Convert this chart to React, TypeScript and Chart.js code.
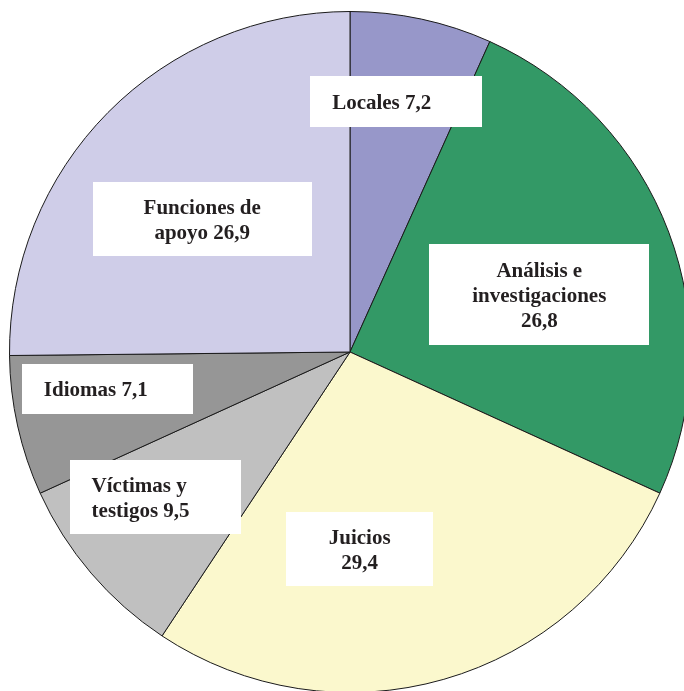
import React, { useEffect, useRef } from "react";
import { Chart, registerables } from "chart.js";

Chart.register(...registerables);

const categories = ["Locales", "Análisis e investigaciones", "Juicios", "Víctimas y testigos", "Idiomas", "Funciones de apoyo"];
const values = [7.2, 26.8, 29.4, 9.5, 7.1, 26.9];
const labelLines = [
  ["Locales 7,2"],
  ["Análisis e", "investigaciones", "26,8"],
  ["Juicios", "29,4"],
  ["Víctimas y", "testigos 9,5"],
  ["Idiomas 7,1"],
  ["Funciones de", "apoyo 26,9"],
];
const colors = ["#9797C9", "#339966", "#FBF8CD", "#C0C0C0", "#969696", "#CFCDE8"];

// label box layout: radial fraction, angle shift (deg), box w/h, alignment
const labelLayout = [
  { r: 0.749, shift: -1.7, w: 172, h: 51, align: "left" },
  { r: 0.581, shift: 3.7, w: 220, h: 101, align: "center" },
  { r: 0.58, shift: 13.2, w: 147, h: 74, align: "center" },
  { r: 0.714, shift: 3.8, w: 171, h: 74, align: "left" },
  { r: 0.721, shift: 3.9, w: 171, h: 50, align: "left" },
  { r: 0.584, shift: -2.7, w: 219, h: 74, align: "center" },
];

const labelPlugin = {
  id: "boxLabels",
  afterDatasetsDraw(chart: any) {
    const ctx = chart.ctx;
    const meta = chart.getDatasetMeta(0);
    ctx.save();
    ctx.font = "bold 21px 'Liberation Serif', 'Times New Roman', serif";
    ctx.textBaseline = "middle";
    meta.data.forEach((arc: any, i: number) => {
      const p = arc.getProps(["x", "y", "startAngle", "endAngle", "outerRadius"], true);
      const mid = (p.startAngle + p.endAngle) / 2 + (labelLayout[i].shift * Math.PI) / 180;
      const rr = p.outerRadius * labelLayout[i].r;
      const cx = p.x + Math.cos(mid) * rr;
      const cy = p.y + Math.sin(mid) * rr;
      const L = labelLayout[i];
      const left = cx - L.w / 2;
      const top = cy - L.h / 2;
      ctx.fillStyle = "#FFFFFF";
      ctx.fillRect(Math.round(left), Math.round(top), L.w, L.h);
      ctx.fillStyle = "#231F20";
      const lines = labelLines[i];
      const lh = 25;
      const startY = cy - ((lines.length - 1) * lh) / 2 + 2;
      lines.forEach((t, k) => {
        if (L.align === "left") {
          ctx.textAlign = "left";
          ctx.fillText(t, left + 22, startY + k * lh);
        } else {
          ctx.textAlign = "center";
          ctx.fillText(t, cx, startY + k * lh);
        }
      });
    });
    ctx.restore();
  },
};

export default function App() {
  const ref = useRef<HTMLCanvasElement>(null);
  useEffect(() => {
    if (!ref.current) return;
    const chart = new Chart(ref.current, {
      type: "pie",
      data: {
        labels: categories,
        datasets: [
          {
            data: values,
            backgroundColor: colors,
            borderColor: "#1a1a1a",
            borderWidth: 1,
          },
        ],
      },
      options: {
        responsive: false,
        animation: false,
        layout: { padding: 0 },
        plugins: {
          legend: { display: false },
          tooltip: { enabled: false },
        },
      },
      plugins: [labelPlugin],
    });
    return () => chart.destroy();
  }, []);
  return (
    <div
      style={{
        position: "fixed",
        left: 0,
        top: 0,
        width: 684,
        height: 691,
        overflow: "hidden",
        background: "#ffffff",
      }}
    >
      <canvas
        ref={ref}
        width={682}
        height={682}
        style={{ position: "absolute", left: 9, top: 11, width: 682, height: 682 }}
      />
    </div>
  );
}
